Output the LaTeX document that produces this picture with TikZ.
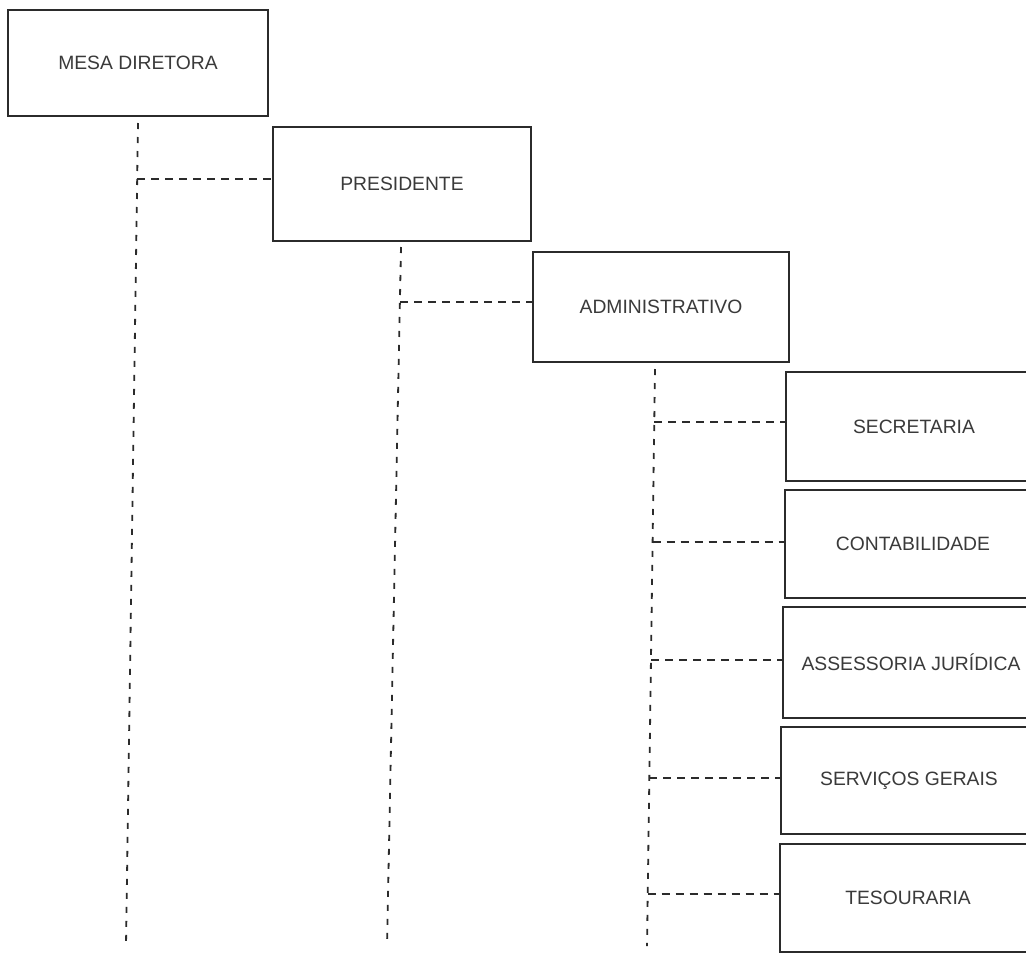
\documentclass[tikz,border=0pt]{standalone}
\usepackage{fontspec}
\setmainfont{Liberation Sans}
\usetikzlibrary{calc}
\definecolor{ink}{HTML}{2B2B2B}
\definecolor{txt}{HTML}{3A3A3A}
\tikzset{
  orgbox/.style={draw=ink, line width=1.8pt, rectangle, inner sep=0pt,
    text=txt, font=\fontsize{19.3}{23}\selectfont},
  trunk/.style={draw=ink, line width=1.8pt, dash pattern=on 6pt off 8pt},
  branch/.style={draw=ink, line width=1.5pt, dash pattern=on 8pt off 6pt},
}
\begin{document}
\begin{tikzpicture}[x=1pt,y=-1pt]
\useasboundingbox (0,0) rectangle (1026,954);
\fill[white] (0,0) rectangle (1026,954);
\clip (0,0) rectangle (1026,954);

% boxes
\node[orgbox, minimum width=260pt, minimum height=106pt] (mesa)  at (138,63)    {MESA DIRETORA};
\node[orgbox, minimum width=258pt, minimum height=114pt] (pres)  at (402,184)   {PRESIDENTE};
\node[orgbox, minimum width=256pt, minimum height=110pt] (admin) at (661,307)   {ADMINISTRATIVO};
\node[orgbox, minimum width=256pt, minimum height=109pt] (sec)   at (914,426.5) {SECRETARIA};
\node[orgbox, minimum width=256pt, minimum height=108pt] (cont)  at (913,544)   {CONTABILIDADE};
\node[orgbox, minimum width=256pt, minimum height=111pt] (ass)   at (911,662.5) {ASSESSORIA JURÍDICA};
\node[orgbox, minimum width=256pt, minimum height=107pt] (serv)  at (909,780.5) {SERVIÇOS GERAIS};
\node[orgbox, minimum width=256pt, minimum height=108pt] (tes)   at (908,898)   {TESOURARIA};

% trunk ends
\coordinate (mt) at (138,123);  \coordinate (mb) at (126,946);
\coordinate (pt) at (401,247);  \coordinate (pb) at (387,946);
\coordinate (at) at (655,369);  \coordinate (ab) at (647,946);

% junctions on the trunks
\coordinate (jm)  at (137.2,179);
\coordinate (jp)  at (400,302);
\coordinate (ja1) at (654.3,422);
\coordinate (ja2) at (652.6,542);
\coordinate (ja3) at (651,660);
\coordinate (ja4) at (649.3,778);
\coordinate (ja5) at (647.7,894);

% trunks
\draw[trunk] (mt) -- (mb);
\draw[trunk] (pt) -- (pb);
\draw[trunk] (at) -- (ab);

% branches
\draw[branch] (jm)  -- (jm  -| pres.west);
\draw[branch] (jp)  -- (jp  -| admin.west);
\draw[branch] (ja1) -- (ja1 -| sec.west);
\draw[branch] (ja2) -- (ja2 -| cont.west);
\draw[branch] (ja3) -- (ja3 -| ass.west);
\draw[branch] (ja4) -- (ja4 -| serv.west);
\draw[branch] (ja5) -- (ja5 -| tes.west);
\end{tikzpicture}
\end{document}
